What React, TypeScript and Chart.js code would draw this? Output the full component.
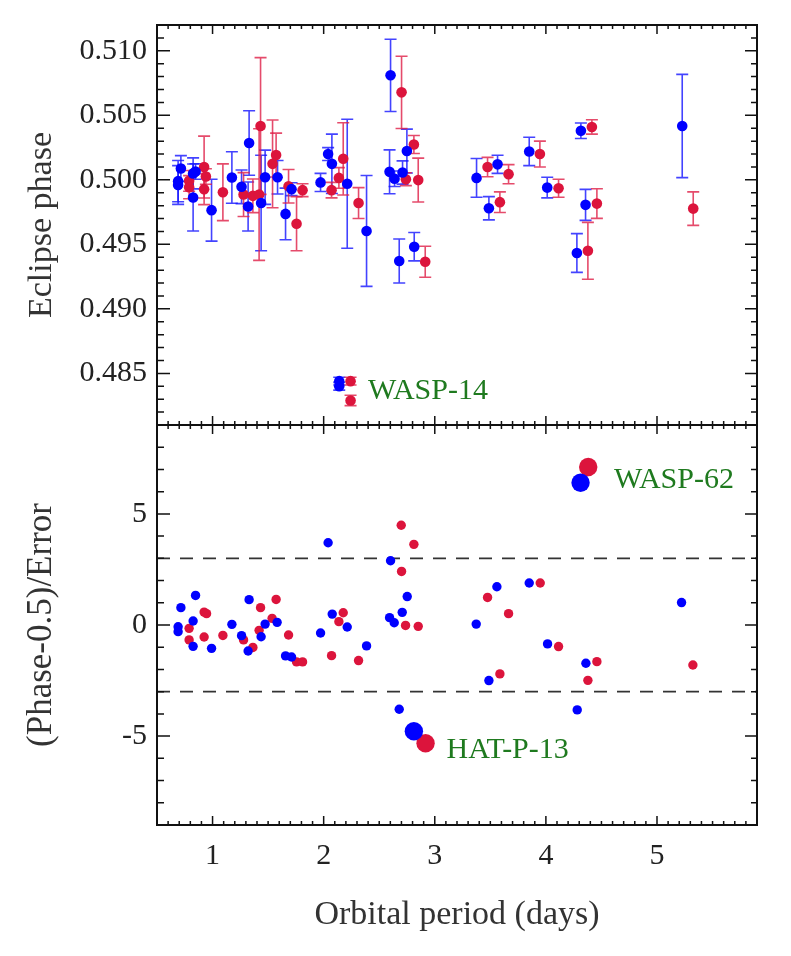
import { useEffect, useRef } from "react";
import { Chart, registerables } from "chart.js";

Chart.register(...registerables);

// ---------- data ----------
const X_MIN = 0.5;
const X_MAX = 5.9;
const xTickValues = [1, 2, 3, 4, 5];

// Top panel: eclipse phase with errors
const blueTopPeriod = [0.690, 0.690, 0.715, 0.825, 0.825, 0.847, 0.991, 1.174, 1.261, 1.329, 1.320, 1.437, 1.473, 1.585, 1.657, 1.711, 1.972, 2.040, 2.074, 2.212, 2.386, 2.602, 2.593, 2.638, 2.680, 2.710, 2.749, 2.815, 3.376, 3.487, 3.565, 3.850, 4.012, 4.279, 4.315, 4.357, 5.227];
const blueTopPhase = [0.4999, 0.4996, 0.50088, 0.49863, 0.5005, 0.50065, 0.49765, 0.50018, 0.49946, 0.50285, 0.49793, 0.4982, 0.5002, 0.5002, 0.49736, 0.49928, 0.4998, 0.5020, 0.50124, 0.4997, 0.49604, 0.5081, 0.50062, 0.50008, 0.49371, 0.50057, 0.50223, 0.49482, 0.50015, 0.4978, 0.5012, 0.5022, 0.4994, 0.49433, 0.5038, 0.49806, 0.50417];
const blueTopErr = [0.0016, 0.0015, 0.0010, 0.0026, 0.0012, 0.0006, 0.0024, 0.0020, 0.0013, 0.0025, 0.0019, 0.0037, 0.0021, 0.0013, 0.0020, 0.0005, 0.0007, 0.0005, 0.0023, 0.0050, 0.0043, 0.0028, 0.0017, 0.0006, 0.0017, 0.0009, 0.0017, 0.0011, 0.0015, 0.0009, 0.0007, 0.0011, 0.0008, 0.0015, 0.0006, 0.0012, 0.0040];

const redTopPeriod = [0.789, 0.789, 0.924, 0.940, 0.924, 1.093, 1.279, 1.363, 1.419, 1.432, 1.540, 1.572, 1.684, 1.756, 1.810, 2.071, 2.137, 2.176, 2.314, 2.701, 2.740, 2.812, 2.851, 2.914, 3.475, 3.586, 3.664, 3.946, 4.114, 4.378, 4.414, 4.459, 5.326];
const redTopPhase = [0.49992, 0.49943, 0.50099, 0.50026, 0.49928, 0.49904, 0.49886, 0.49876, 0.49886, 0.50417, 0.50124, 0.50192, 0.4995, 0.4966, 0.4992, 0.4992, 0.50015, 0.50163, 0.4982, 0.50678, 0.50005, 0.50274, 0.49998, 0.49365, 0.50099, 0.49827, 0.50044, 0.5020, 0.49935, 0.4945, 0.5041, 0.49816, 0.49777];
const redTopErr = [0.0008, 0.0009, 0.0024, 0.0006, 0.0012, 0.0022, 0.0017, 0.0013, 0.0051, 0.0053, 0.0034, 0.0017, 0.0013, 0.0021, 0.0005, 0.0006, 0.0008, 0.0028, 0.0012, 0.0028, 0.0005, 0.0007, 0.0017, 0.0012, 0.00075, 0.0008, 0.00074, 0.0010, 0.0007, 0.0022, 0.00056, 0.00115, 0.0013];

// WASP-14 (offset outlier)
const wasp14BluePeriod = [2.140, 2.140];
const wasp14BluePhase = [0.4844, 0.4840];
const wasp14BlueErr = [0.0003, 0.0003];
const wasp14RedPeriod = [2.242, 2.242];
const wasp14RedPhase = [0.4844, 0.4829];
const wasp14RedErr = [0.0003, 0.0004];

// Bottom panel: (Phase-0.5)/Error
const blueBotPeriod = [0.690, 0.690, 0.715, 0.825, 0.847, 0.825, 0.991, 1.174, 1.261, 1.329, 1.320, 1.437, 1.473, 1.581, 1.657, 1.711, 1.972, 2.040, 2.077, 2.212, 2.386, 2.602, 2.593, 2.635, 2.680, 2.707, 2.752, 3.373, 3.487, 3.559, 3.850, 4.015, 4.282, 4.360, 5.221];
const blueBotValue = [-0.08, -0.30, 0.78, 0.18, 1.33, -0.96, -1.05, 0.03, -0.48, 1.14, -1.17, -0.53, 0.04, 0.12, -1.39, -1.44, -0.36, 3.70, 0.49, -0.09, -0.94, 2.89, 0.33, 0.10, -3.79, 0.57, 1.28, 0.04, -2.50, 1.72, 1.89, -0.85, -3.82, -1.72, 1.01];
const blueBigPeriod = [2.812, 4.312];
const blueBigValue = [-4.78, 6.40];

const redBotPeriod = [0.789, 0.789, 0.924, 0.946, 0.924, 1.093, 1.279, 1.363, 1.419, 1.432, 1.536, 1.572, 1.684, 1.756, 1.810, 2.071, 2.137, 2.176, 2.314, 2.698, 2.812, 2.701, 2.737, 2.851, 3.475, 3.586, 3.664, 3.949, 4.114, 4.378, 4.459, 5.323];
const redBotValue = [-0.15, -0.67, 0.58, 0.51, -0.54, -0.47, -0.67, -1.01, -0.24, 0.78, 0.30, 1.15, -0.45, -1.66, -1.66, -1.38, 0.15, 0.55, -1.60, 4.49, 3.63, 2.41, -0.02, -0.06, 1.24, -2.20, 0.51, 1.89, -0.97, -2.49, -1.65, -1.80];
const redBigPeriod = [2.917, 4.381];
const redBigValue = [-5.32, 7.11];

const thresholdLevels = [3, -3];

const topYTicks = [0.485, 0.49, 0.495, 0.5, 0.505, 0.51];
const botYTicks = [-5, 0, 5];

const topLabels = [{ text: "WASP-14", x: 2.398, y: 0.48305 }];
const botLabels = [
  { text: "WASP-62", x: 4.612, y: 6.18 },
  { text: "HAT-P-13", x: 3.106, y: -6.0 },
];

// ---------- styles ----------
const SERIF = '"Liberation Serif", "Times New Roman", Times, serif';
const BLUE = "#0000ff";
const RED = "#dc143c";
const BLUE_BAR = "rgba(20,20,255,0.8)";
const RED_BAR = "rgba(222,30,70,0.8)";
const GREEN = "#1f7a1f";
const TICK_FONT = { family: SERIF, size: 30 };
const TITLE_FONT = { family: SERIF, size: 34 };
const TITLE_FONT_BOT = { family: SERIF, size: 35 };

const pts = (xs: number[], ys: number[]) => xs.map((x, i) => ({ x, y: ys[i] }));

const minorRange = (a: number, b: number, step: number) => {
  const out: number[] = [];
  const n = Math.round((b - a) / step);
  for (let i = 0; i <= n; i++) out.push(a + i * step);
  return out;
};

const errorBarPlugin = {
  id: "errorBars",
  beforeDatasetsDraw(chart: any) {
    const { ctx, scales } = chart;
    const xs = scales.x, ys = scales.y;
    ctx.save();
    chart.data.datasets.forEach((ds: any) => {
      if (!ds.errors) return;
      ctx.strokeStyle = ds.errorColor;
      ctx.lineWidth = 1.6;
      ds.data.forEach((p: any, i: number) => {
        const e = ds.errors[i];
        const px = xs.getPixelForValue(p.x);
        const y1 = ys.getPixelForValue(p.y - e);
        const y2 = ys.getPixelForValue(p.y + e);
        ctx.beginPath();
        ctx.moveTo(px, y1);
        ctx.lineTo(px, y2);
        ctx.moveTo(px - 6, y1);
        ctx.lineTo(px + 6, y1);
        ctx.moveTo(px - 6, y2);
        ctx.lineTo(px + 6, y2);
        ctx.stroke();
      });
    });
    ctx.restore();
  },
};

const frameTicksPlugin = {
  id: "frameTicks",
  afterDraw(chart: any, _args: any, opts: any) {
    const { ctx, chartArea: a, scales } = chart;
    const xs = scales.x, ys = scales.y;
    ctx.save();
    ctx.strokeStyle = "#111";
    ctx.lineWidth = 1.5;
    // x ticks (top and bottom edges, inward)
    const xMinor = minorRange(0.6, 5.8, 0.1);
    xMinor.forEach((v) => {
      const major = Math.abs(v - Math.round(v)) < 1e-6;
      const px = xs.getPixelForValue(v);
      const len = major ? 9 : 4;
      ctx.beginPath();
      ctx.moveTo(px, a.top);
      ctx.lineTo(px, a.top + len);
      ctx.moveTo(px, a.bottom);
      ctx.lineTo(px, a.bottom - len);
      ctx.stroke();
    });
    // y ticks (left and right)
    opts.yMinor.forEach((v: number) => {
      const py = ys.getPixelForValue(v);
      const major = opts.yMajor.some((m: number) => Math.abs(m - v) < 1e-9);
      const lenL = major ? 13 : 7;
      const lenR = major ? 12 : 6;
      ctx.beginPath();
      ctx.moveTo(a.left, py);
      ctx.lineTo(a.left + lenL, py);
      ctx.moveTo(a.right, py);
      ctx.lineTo(a.right - lenR, py);
      ctx.stroke();
    });
    ctx.lineWidth = 2;
    ctx.strokeRect(a.left, a.top, a.right - a.left, a.bottom - a.top);
    // annotations
    ctx.fillStyle = GREEN;
    ctx.font = `30px ${SERIF}`;
    ctx.textAlign = "left";
    ctx.textBaseline = "alphabetic";
    (opts.labels || []).forEach((l: any) => {
      ctx.fillText(l.text, xs.getPixelForValue(l.x), ys.getPixelForValue(l.y));
    });
    ctx.restore();
  },
};

const yAfterFit = (s: any) => {
  s.width = 157;
  s.paddingTop = 0;
  s.paddingBottom = 0;
  s.paddingLeft = 0;
  s.paddingRight = 0;
};

function topConfig(): any {
  return {
    type: "scatter",
    data: {
      datasets: [
        { data: pts(blueTopPeriod, blueTopPhase), errors: blueTopErr, errorColor: BLUE_BAR, backgroundColor: BLUE, borderWidth: 0, pointRadius: 5.3 },
        { data: pts(wasp14BluePeriod, wasp14BluePhase), errors: wasp14BlueErr, errorColor: BLUE_BAR, backgroundColor: BLUE, borderWidth: 0, pointRadius: 5.3 },
        { data: pts(redTopPeriod, redTopPhase), errors: redTopErr, errorColor: RED_BAR, backgroundColor: RED, borderWidth: 0, pointRadius: 5.3 },
        { data: pts(wasp14RedPeriod, wasp14RedPhase), errors: wasp14RedErr, errorColor: RED_BAR, backgroundColor: RED, borderWidth: 0, pointRadius: 5.3 },
      ],
    },
    options: {
      responsive: false,
      animation: false,
      events: [],
      layout: { padding: { left: 0, right: 34, top: 25, bottom: 1 }, autoPadding: false },
      plugins: {
        legend: { display: false },
        tooltip: { enabled: false },
        frameTicks: { yMajor: topYTicks, yMinor: minorRange(0.482, 0.511, 0.001), labels: topLabels },
      },
      scales: {
        x: { type: "linear", min: X_MIN, max: X_MAX, display: false },
        y: {
          type: "linear",
          min: 0.481,
          max: 0.512,
          grid: { display: false, drawTicks: false },
          border: { display: false },
          afterBuildTicks: (s: any) => { s.ticks = topYTicks.map((v) => ({ value: v })); },
          afterFit: yAfterFit,
          ticks: { font: TICK_FONT, color: "#222", padding: 10, callback: (v: any) => Number(v).toFixed(3) },
          title: { display: true, text: "Eclipse phase", font: TITLE_FONT, color: "#333", padding: { top: 22, bottom: 0 } },
        },
      },
    },
    plugins: [errorBarPlugin, frameTicksPlugin],
  };
}

function botConfig(): any {
  const dash = thresholdLevels.map((lv) => ({
    type: "line",
    data: [{ x: X_MIN, y: lv }, { x: X_MAX, y: lv }],
    borderColor: "#333",
    borderWidth: 1.6,
    borderDash: [13, 10],
    pointRadius: 0,
    showLine: true,
    fill: false,
  }));
  return {
    type: "scatter",
    data: {
      datasets: [
        { data: pts(blueBigPeriod, blueBigValue), backgroundColor: BLUE, borderWidth: 0, pointRadius: 9.2 },
        { data: pts(redBigPeriod, redBigValue), backgroundColor: RED, borderWidth: 0, pointRadius: 9.2 },
        { data: pts(blueBotPeriod, blueBotValue), backgroundColor: BLUE, borderWidth: 0, pointRadius: 4.7 },
        { data: pts(redBotPeriod, redBotValue), backgroundColor: RED, borderWidth: 0, pointRadius: 4.7 },
        ...dash,
      ],
    },
    options: {
      responsive: false,
      animation: false,
      events: [],
      layout: { padding: { left: 0, right: 34, top: 10, bottom: 0 }, autoPadding: false },
      plugins: {
        legend: { display: false },
        tooltip: { enabled: false },
        frameTicks: { yMajor: botYTicks, yMinor: minorRange(-8, 8, 1), labels: botLabels },
      },
      scales: {
        x: {
          type: "linear",
          min: X_MIN,
          max: X_MAX,
          grid: { display: false, drawTicks: false },
          border: { display: false },
          afterBuildTicks: (s: any) => { s.ticks = xTickValues.map((v) => ({ value: v })); },
          afterFit: (s: any) => { s.height = 131; s.paddingLeft = 0; s.paddingRight = 0; s.paddingTop = 0; s.paddingBottom = 0; },
          ticks: { font: TICK_FONT, color: "#222", padding: 13, maxRotation: 0, callback: (v: any) => String(v) },
          title: { display: true, text: "Orbital period (days)", font: TITLE_FONT, color: "#333", padding: { top: 0, bottom: 21 } },
        },
        y: {
          type: "linear",
          min: -9,
          max: 9,
          grid: { display: false, drawTicks: false },
          border: { display: false },
          afterBuildTicks: (s: any) => { s.ticks = botYTicks.map((v) => ({ value: v })); },
          afterFit: yAfterFit,
          ticks: { font: TICK_FONT, color: "#222", padding: 10, callback: (v: any) => String(v) },
          title: { display: true, text: "(Phase-0.5)/Error", font: TITLE_FONT_BOT, color: "#333", padding: { top: 21, bottom: 0 } },
        },
      },
    },
    plugins: [frameTicksPlugin],
  };
}

export default function App() {
  const topRef = useRef<HTMLCanvasElement>(null);
  const botRef = useRef<HTMLCanvasElement>(null);
  useEffect(() => {
    const c1 = new Chart(topRef.current as HTMLCanvasElement, topConfig());
    const c2 = new Chart(botRef.current as HTMLCanvasElement, botConfig());
    return () => {
      c1.destroy();
      c2.destroy();
    };
  }, []);
  return (
    <div style={{ position: "absolute", left: 0, top: 0, width: 791, height: 956, background: "#fff" }}>
      <canvas ref={topRef} width={791} height={426} style={{ position: "absolute", left: 0, top: 0 }} />
      <canvas ref={botRef} width={791} height={541} style={{ position: "absolute", left: 0, top: 415 }} />
    </div>
  );
}
